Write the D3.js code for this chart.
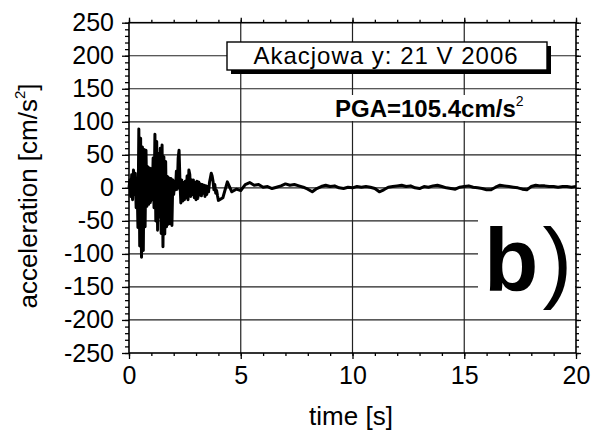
<!DOCTYPE html>
<html>
<head>
<meta charset="utf-8">
<script src="https://cdn.jsdelivr.net/npm/d3@7"></script>
<style>
body { margin: 0; background: #fff; }
svg { display: block; font-family: "Liberation Sans", Arial, sans-serif; }
</style>
</head>
<body>
<svg id="chart" width="592" height="431"></svg>
<script>
// acceleration record, first 4 s sampled every 0.04 s
var earlyAcc = [
    0, 12, -13, 20, -18, 27, -10, 22, -30, 15,
    -60, 89, -88, 75, -105, 62, -95, 58, -59, 57,
    -28, 32, -25, 30, -22, 29, -18, 45, -30, 81,
    -50, 70, -64, 52, -44, 60, -69, 65, -89, 47,
    -70, 40, -59, 17, -55, 15, -54, 14, -57, 12,
    -10, 10, -3, 25, -2, 45, 57, 10, -23, 12,
    -20, 8, -18, 10, -15, 18, -18, 27, 20, -13,
    12, -10, 12, -15, 8, -18, 10, -16, 9, -11,
    6, -12, 5, -8, 4, -13, 3, -10, 2, -6,
    8, 15, 22, 18, 10, -3, 5, -8, -4, -12,
    -19
];
// rest of the record, 4.2 s to 20 s sampled every 0.2 s
var lateAcc = [
    -15, 9, -6, -2, -4, 5, 8, 4, 5, 1,
    2, -1, 1, 3, 6, 4, 5, 3, 1, -2,
    -6, -1, 2, 4, 2, 3, 0, -1, 1, 0,
    2, 1, 2, 1, -1, -6, -3, 1, 2, 3,
    4, 2, 3, 0, -1, 2, 1, 3, 4, 2,
    0, -1, -2, 1, 2, 3, 1, 0, -1, -3,
    -3, 1, 4, 3, 2, 1, 0, -2, -3, 2,
    4, 3, 3, 2, 2, 1, 2, 2, 1, 2
];
var earlyStep = 0.04;
var lateStart = 4.2, lateStep = 0.2;

var xTicks = [0, 5, 10, 15, 20];
var yTicks = [-250, -200, -150, -100, -50, 0, 50, 100, 150, 200, 250];
var xMinor = d3.range(0, 21, 1);
var yMinor = d3.range(-250, 251, 10);

var signal = earlyAcc.map((v, i) => [i * earlyStep, v])
    .concat(lateAcc.map((v, i) => [lateStart + i * lateStep, v]));

var svg = d3.select("#chart");
var font = "'Liberation Sans', Arial, sans-serif";

var x = d3.scaleLinear().domain([0, 20]).range([129, 576]);
var y = d3.scaleLinear().domain([-250, 250]).range([353, 22.7]);

// grid
var grid = svg.append("g").attr("stroke", "#222").attr("stroke-width", 1.2);
grid.selectAll("line.v")
    .data(xTicks.slice(1, -1))
    .enter().append("line")
    .attr("x1", (d) => x(d)).attr("x2", (d) => x(d))
    .attr("y1", y(-250)).attr("y2", y(250));
grid.selectAll("line.h")
    .data(yTicks.slice(1, -1))
    .enter().append("line")
    .attr("x1", x(0)).attr("x2", x(20))
    .attr("y1", (d) => y(d)).attr("y2", (d) => y(d));

// signal
var line = d3.line()
    .x((d) => x(d[0]))
    .y((d) => y(d[1]));

svg.append("path")
    .datum(signal)
    .attr("d", line)
    .attr("fill", "none")
    .attr("stroke", "#000")
    .attr("stroke-width", 3)
    .attr("stroke-linejoin", "round");

// axes
function styleAxis(g) {
    g.select(".domain").remove();
    g.selectAll(".tick line").attr("stroke", "#000").attr("stroke-width", 1.3);
    g.attr("font-family", font).attr("font-size", 25);
    g.selectAll(".tick text").attr("fill", "#000");
}

svg.append("g").attr("transform", "translate(" + x(0) + ",0)")
    .call(d3.axisLeft(y).tickValues(yMinor).tickSize(4).tickFormat(""))
    .call(styleAxis);
svg.append("g").attr("transform", "translate(" + x(0) + ",0)")
    .call(d3.axisLeft(y).tickValues(yTicks).tickSize(7).tickPadding(8).tickFormat((d) => String(d)))
    .call(styleAxis);
svg.append("g").attr("transform", "translate(" + x(20) + ",0)")
    .call(d3.axisRight(y).tickValues(yMinor).tickSize(3).tickFormat(""))
    .call(styleAxis);
svg.append("g").attr("transform", "translate(" + x(20) + ",0)")
    .call(d3.axisRight(y).tickValues(yTicks).tickSize(5).tickFormat(""))
    .call(styleAxis);

svg.append("g").attr("transform", "translate(0," + y(-250) + ")")
    .call(d3.axisBottom(x).tickValues(xMinor).tickSize(3).tickFormat(""))
    .call(styleAxis);
svg.append("g").attr("transform", "translate(0," + y(-250) + ")")
    .call(d3.axisBottom(x).tickValues(xTicks).tickSize(6).tickPadding(7).tickFormat((d) => String(d)))
    .call(styleAxis);
svg.append("g").attr("transform", "translate(0," + y(250) + ")")
    .call(d3.axisTop(x).tickValues(xMinor).tickSize(3).tickFormat(""))
    .call(styleAxis);
svg.append("g").attr("transform", "translate(0," + y(250) + ")")
    .call(d3.axisTop(x).tickValues(xTicks).tickSize(5).tickFormat(""))
    .call(styleAxis);

// frame
svg.append("rect")
    .attr("x", x(0)).attr("y", y(250))
    .attr("width", x(20) - x(0)).attr("height", y(-250) - y(250))
    .attr("fill", "none").attr("stroke", "#000").attr("stroke-width", 1.6);

// title box with shadow
svg.append("rect").attr("x", 231).attr("y", 46).attr("width", 320).attr("height", 28).attr("fill", "#000");
svg.append("rect").attr("x", 227).attr("y", 42).attr("width", 320).attr("height", 28)
    .attr("fill", "#fff").attr("stroke", "#000").attr("stroke-width", 1.4);
svg.append("text")
    .attr("x", 386).attr("y", 64)
    .attr("text-anchor", "middle")
    .attr("font-family", font).attr("font-size", 24)
    .attr("letter-spacing", 1)
    .text("Akacjowa y: 21 V 2006");

// PGA note
svg.append("rect").attr("x", 333).attr("y", 95).attr("width", 190).attr("height", 26).attr("fill", "#fff");
var pga = svg.append("text")
    .attr("x", 335).attr("y", 117)
    .attr("font-family", font).attr("font-size", 24).attr("font-weight", "bold");
pga.append("tspan").text("PGA=105.4cm/s");
pga.append("tspan").attr("dy", -11).attr("font-size", 14).attr("font-weight", "normal").text("2");

// panel letter
svg.append("rect").attr("x", 478).attr("y", 200).attr("width", 97).attr("height", 112).attr("fill", "#fff");
var panel = svg.append("text")
    .attr("x", 484).attr("y", 291)
    .attr("font-family", font).attr("font-size", 89);
panel.append("tspan").attr("font-weight", "bold").text("b");
panel.append("tspan").attr("dx", 4).text(")");

// axis titles
svg.append("text")
    .attr("x", 351).attr("y", 425)
    .attr("text-anchor", "middle")
    .attr("font-family", font).attr("font-size", 26)
    .text("time [s]");

var ylab = svg.append("text")
    .attr("transform", "translate(37,196) rotate(-90)")
    .attr("text-anchor", "middle")
    .attr("font-family", font).attr("font-size", 26);
ylab.append("tspan").text("acceleration [cm/s");
ylab.append("tspan").attr("dy", -12).attr("font-size", 15).text("2");
ylab.append("tspan").attr("dy", 12).text("]");
</script>
</body>
</html>
